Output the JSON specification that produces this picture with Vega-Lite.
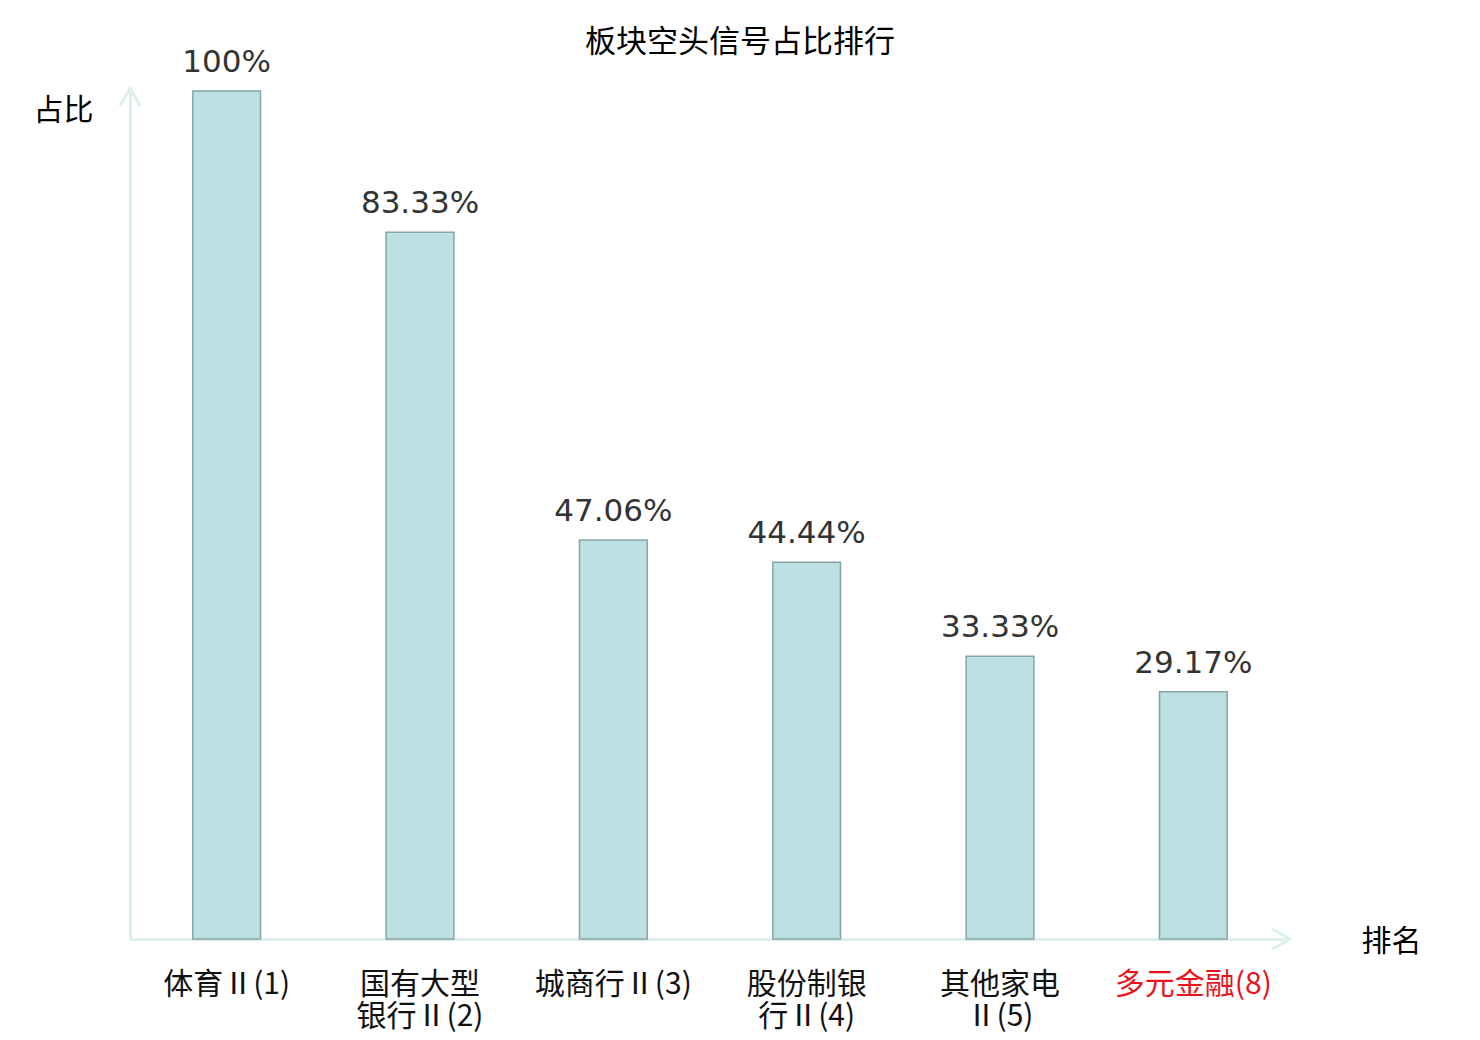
{
  "$schema": "https://vega.github.io/schema/vega-lite/v6.json",
  "description": "板块空头信号占比排行",
  "autosize": {"type": "none"},
  "width": 1160,
  "height": 851,
  "padding": {"left": 130, "top": 88, "right": 190, "bottom": 101},
  "background": "white",
  "title": {
    "text": "板块空头信号占比排行",
    "font": "Noto Sans CJK SC",
    "fontSize": 31,
    "fontWeight": "normal",
    "color": "#000000",
    "anchor": "middle",
    "dx": 30,
    "dy": 22,
    "offset": 10
  },
  "data": {
    "values": [
      {"sector": "体育Ⅱ(1)", "ratio": 100, "label": "100%"},
      {"sector": "国有大型|银行Ⅱ(2)", "ratio": 83.33, "label": "83.33%"},
      {"sector": "城商行Ⅱ(3)", "ratio": 47.06, "label": "47.06%"},
      {"sector": "股份制银|行Ⅱ(4)", "ratio": 44.44, "label": "44.44%"},
      {"sector": "其他家电|Ⅱ(5)", "ratio": 33.33, "label": "33.33%"},
      {"sector": "多元金融(8)", "ratio": 29.17, "label": "29.17%"}
    ]
  },
  "layer": [
    {
      "mark": {"type": "bar", "fill": "#bde0e3", "stroke": "#88a4a6", "strokeWidth": 1.5},
      "encoding": {
        "x": {
          "field": "sector",
          "type": "nominal",
          "sort": null,
          "scale": {"paddingInner": 0.65, "paddingOuter": 0.325},
          "axis": {
            "title": "排名",
            "titleFont": "Noto Sans CJK SC",
            "titleFontSize": 30,
            "titleFontWeight": "normal",
            "titleColor": "#000000",
            "titleAngle": 0,
            "titleAlign": "center",
            "titleBaseline": "middle",
            "titleX": 1261,
            "titleY": 2,
            "domainColor": "#dcf1ee",
            "domainWidth": 3,
            "ticks": false,
            "grid": false,
            "labelAngle": 0,
            "labelFont": "Noto Sans CJK SC",
            "labelFontSize": 30,
            "labelLineHeight": 32,
            "labelPadding": 30,
            "labelExpr": "split(datum.value, '|')",
            "labelColor": {
              "condition": {"test": "datum.value === '多元金融(8)'", "value": "#e8141c"},
              "value": "#111111"
            }
          }
        },
        "y": {
          "field": "ratio",
          "type": "quantitative",
          "scale": {"domain": [0, 100.35], "nice": false},
          "axis": {
            "title": "占比",
            "titleFont": "Noto Sans CJK SC",
            "titleFontSize": 30,
            "titleFontWeight": "normal",
            "titleColor": "#000000",
            "titleAngle": 0,
            "titleAlign": "center",
            "titleBaseline": "middle",
            "titleX": -67,
            "titleY": 22,
            "domainColor": "#dcf1ee",
            "domainWidth": 3,
            "ticks": false,
            "labels": false,
            "grid": false
          }
        }
      }
    },
    {
      "mark": {
        "type": "text",
        "font": "DejaVu Sans",
        "fontSize": 31,
        "color": "#333333",
        "baseline": "alphabetic",
        "dy": -19
      },
      "encoding": {
        "x": {"field": "sector", "type": "nominal", "sort": null},
        "y": {"field": "ratio", "type": "quantitative"},
        "text": {"field": "label"}
      }
    },
    {
      "data": {"values": [{"axis": "y"}]},
      "mark": {
        "type": "point",
        "shape": "M-0.5,0.9L0,0L0.5,0.9",
        "filled": false,
        "color": "#dcf1ee",
        "strokeWidth": 3,
        "size": 1600,
        "opacity": 1
      },
      "encoding": {
        "x": {"value": 0},
        "y": {"datum": 100.35}
      }
    },
    {
      "data": {"values": [{"axis": "x"}]},
      "mark": {
        "type": "point",
        "shape": "M-0.9,-0.5L0,0L-0.9,0.5",
        "filled": false,
        "color": "#dcf1ee",
        "strokeWidth": 3,
        "size": 1600,
        "opacity": 1
      },
      "encoding": {
        "x": {"value": 1160},
        "y": {"datum": 0}
      }
    }
  ],
  "config": {"view": {"stroke": null}}
}
